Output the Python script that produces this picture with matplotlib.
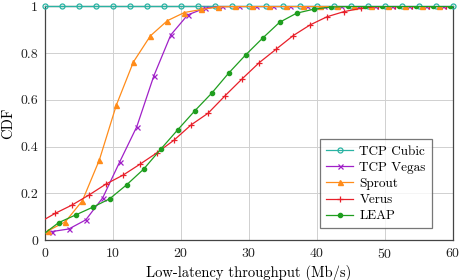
import matplotlib
matplotlib.use("Agg")
import matplotlib.pyplot as plt
import numpy as np

plt.rcParams['font.family'] = 'serif'
plt.rcParams['font.serif'] = ['cmr10', 'DejaVu Serif']
plt.rcParams['mathtext.fontset'] = 'cm'
plt.rcParams['axes.unicode_minus'] = False
plt.rcParams['axes.formatter.use_mathtext'] = True

# ---- data ----
cubic_x = [0, 2.5, 5, 7.5, 10, 12.5, 15, 17.5, 20, 22.5, 25, 27.5, 30, 32.5, 35,
           37.5, 40, 42.5, 45, 47.5, 50, 52.5, 55, 57.5, 60]
cubic_y = [1.0] * len(cubic_x)

sprout_x = [0, 0.5, 3, 5.5, 8, 10.5, 13, 15.5, 18, 20.5, 23, 25.5, 28, 30.5, 33,
            35.5, 38, 40.5, 43, 45.5, 48, 50.5, 53, 55.5, 58, 60]
sprout_y = [0.03, 0.04, 0.078, 0.168, 0.343, 0.578, 0.762, 0.874, 0.939, 0.974,
            0.987, 0.998, 1, 1, 1, 1, 1, 1, 1, 1, 1, 1, 1, 1, 1, 1]

vegas_x = [0, 1, 3.5, 6, 8.5, 11, 13.5, 16, 18.5, 21, 23.5, 26, 28.5, 31, 33.5,
           36, 38.5, 41, 43.5, 46, 48.5, 51, 53.5, 56, 58.5, 60]
vegas_y = [0.03, 0.036, 0.047, 0.086, 0.181, 0.335, 0.485, 0.702, 0.878, 0.964,
           0.992, 1, 1, 1, 1, 1, 1, 1, 1, 1, 1, 1, 1, 1, 1, 1]

verus_x = [0, 1.5, 4, 6.5, 9, 11.5, 14, 16.5, 19, 21.5, 24, 26.5, 29, 31.5, 34,
           36.5, 39, 41.5, 44, 46.5, 49, 51.5, 54, 56.5, 59, 60]
verus_y = [0.089, 0.114, 0.150, 0.193, 0.240, 0.278, 0.325, 0.374, 0.428, 0.493,
           0.543, 0.618, 0.690, 0.759, 0.817, 0.875, 0.921, 0.956, 0.978, 0.992,
           1, 1, 1, 1, 1, 1]

leap_x = [0, 2, 4.5, 7, 9.5, 12, 14.5, 17, 19.5, 22, 24.5, 27, 29.5, 32, 34.5,
          37, 39.5, 42, 44.5, 47, 49.5, 52, 54.5, 57, 59.5, 60]
leap_y = [0.03, 0.074, 0.107, 0.140, 0.176, 0.236, 0.303, 0.388, 0.471, 0.552,
          0.628, 0.714, 0.792, 0.864, 0.932, 0.971, 0.988, 0.997, 1, 1, 1, 1, 1,
          1, 1, 1]

x_ticks = [0, 10, 20, 30, 40, 50, 60]
y_ticks = [0, 0.2, 0.4, 0.6, 0.8, 1]
y_tick_labels = ['0', '0.2', '0.4', '0.6', '0.8', '1']

fig = plt.figure(figsize=(4.63, 2.80), dpi=100)
ax = fig.add_axes([0.0972, 0.143, 0.881, 0.834])

lw = 0.9
ms = 3.6
ax.plot(cubic_x, cubic_y, color='#2ab3a3', lw=lw, marker='o', ms=ms,
        mfc='none', mew=0.9, label='TCP Cubic', zorder=3, clip_on=False)
ax.plot(vegas_x, vegas_y, color='#a020c8', lw=lw, marker='x', ms=ms,
        mew=0.9, label='TCP Vegas', markevery=list(range(1, len(vegas_x) - 1)), zorder=3)
ax.plot(sprout_x, sprout_y, color='#ff8c1a', lw=lw, marker='^', ms=ms,
        label='Sprout', markevery=list(range(1, len(sprout_x) - 1)), zorder=3)
ax.plot(verus_x, verus_y, color='#e8202a', lw=lw, marker='+', ms=ms + 1,
        mew=0.9, label='Verus', markevery=list(range(1, len(verus_x) - 1)), zorder=3)
ax.plot(leap_x, leap_y, color='#1f9e1f', lw=lw, marker='o', ms=ms - 0.6,
        label='LEAP', markevery=list(range(1, len(leap_x) - 1)), zorder=3)

ax.set_xlim(0, 60)
ax.set_ylim(0, 1)
ax.set_xticks(x_ticks)
ax.set_yticks(y_ticks)
ax.set_yticklabels(y_tick_labels)
ax.tick_params(labelsize=10, length=0, pad=5, colors='#222222')
ax.grid(True, color='#d0d0d0', lw=0.7)
ax.set_axisbelow(True)
for s in ax.spines.values():
    s.set_color('#444444')
    s.set_linewidth(0.9)

ax.set_xlabel('Low-latency throughput (Mb/s)', fontsize=10.5, labelpad=3)
ax.set_ylabel('CDF', fontsize=10.5, labelpad=4)

leg = ax.legend(loc='lower right', bbox_to_anchor=(0.948, 0.05), fontsize=9.5,
                frameon=True, fancybox=False, edgecolor='#555555',
                handlelength=2.0, borderpad=0.45, labelspacing=0.3,
                handletextpad=0.5, borderaxespad=0.0, numpoints=1)
leg.get_frame().set_linewidth(0.9)

fig.savefig('out.png', dpi=100)
